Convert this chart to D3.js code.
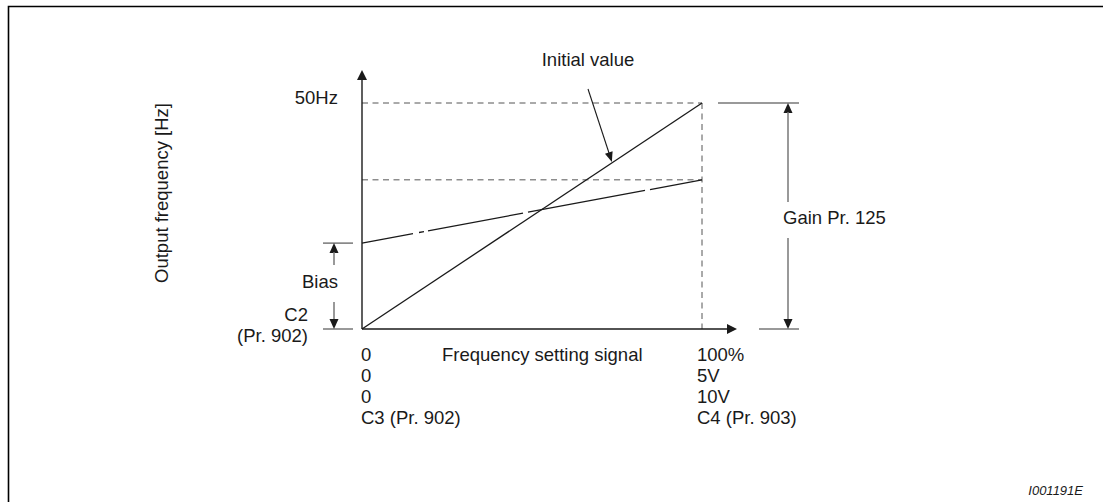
<!DOCTYPE html>
<html>
<head>
<meta charset="utf-8">
<script src="https://cdn.jsdelivr.net/npm/d3@7"></script>
<style>
  html, body { margin: 0; padding: 0; background: #fff; }
  svg { display: block; }
  text { font-family: "Liberation Sans", Arial, sans-serif; fill: #1a1a1a; }
</style>
</head>
<body>
<svg id="chart" width="1103" height="502"></svg>
<script>
// Frequency setting signal, in percent of full scale
const signalPct = [0, 100];
// Output frequency along the initial (factory) characteristic, Hz
const initialHz = [0, 50];
// Output frequency along the adjusted characteristic (bias -> gain), Hz
const adjustedHz = [19, 33];
// Axis tick labels stacked under each end of the signal axis
const startLabels = ["0", "0", "0", "C3 (Pr. 902)"];
const endLabels = ["100%", "5V", "10V", "C4 (Pr. 903)"];
const biasLabels = ["C2", "(Pr. 902)"];
const maxHzLabel = "50Hz";

const svg = d3.select("#chart");
const FS = 18.5;
const LINE_GAP = 21;

// Frame around the figure
svg.append("path")
  .attr("d", "M8.5,502 V6.5 H1103")
  .attr("fill", "none").attr("stroke", "#000").attr("stroke-width", 1.6);

const x = d3.scaleLinear().domain([0, 100]).range([362, 702]);
const y = d3.scaleLinear().domain([0, 50]).range([329, 103]);

const xTip = x(110.3), yTip = y(57.3);

function arrowHead(tx, ty, angle, len, half, fill) {
  // angle: direction the arrow points, radians
  const bx = tx - len * Math.cos(angle), by = ty - len * Math.sin(angle);
  const px = -Math.sin(angle) * half, py = Math.cos(angle) * half;
  svg.append("path")
    .attr("d", `M${tx},${ty} L${bx + px},${by + py} L${bx - px},${by - py} Z`)
    .attr("fill", fill);
}

// Multi-line label: one text element, one tspan per line
function stacked(lines, px, py, anchor) {
  const t = svg.append("text").attr("x", px).attr("y", py)
    .attr("text-anchor", anchor).attr("font-size", FS);
  lines.forEach((s, i) => {
    t.append("tspan").attr("x", px).attr("dy", i === 0 ? 0 : LINE_GAP).text(s);
  });
}

// Guide lines (dashed)
const dash = { stroke: "#555", "stroke-width": 1, "stroke-dasharray": "6,4.5" };
function dashed(x1, y1, x2, y2) {
  const l = svg.append("line").attr("x1", x1).attr("y1", y1).attr("x2", x2).attr("y2", y2);
  Object.entries(dash).forEach(([k, v]) => l.attr(k, v));
}
dashed(x(0), y(initialHz[1]), x(100), y(initialHz[1]));
dashed(x(0), y(adjustedHz[1]), x(100), y(adjustedHz[1]));
dashed(x(100), y(initialHz[1]), x(100), y(0));

// Axes
const axisColor = "#1a1a1a";
svg.append("line").attr("x1", x(0)).attr("y1", y(0)).attr("x2", x(0)).attr("y2", yTip + 8)
  .attr("stroke", axisColor).attr("stroke-width", 1.4);
arrowHead(x(0), yTip, -Math.PI / 2, 10, 5, axisColor);
svg.append("line").attr("x1", x(0)).attr("y1", y(0)).attr("x2", xTip - 8).attr("y2", y(0))
  .attr("stroke", axisColor).attr("stroke-width", 1.4);
arrowHead(xTip, y(0), 0, 10, 5, axisColor);

// Characteristic lines
const line = d3.line().x(d => x(d[0])).y(d => y(d[1]));
svg.append("path")
  .attr("d", line(d3.zip(signalPct, initialHz)))
  .attr("fill", "none").attr("stroke", "#1a1a1a").attr("stroke-width", 1.3);

const adj = svg.append("path")
  .attr("d", line(d3.zip(signalPct, adjustedHz)))
  .attr("fill", "none").attr("stroke", "#1a1a1a").attr("stroke-width", 1.3);
{
  const k = Math.hypot(x(100) - x(0), y(adjustedHz[1]) - y(adjustedHz[0])) / (x(100) - x(0));
  const segs = [51, 6, 5, 4, 95, 5, 117, 5, 60].map(v => v * k);
  adj.attr("stroke-dasharray", segs.join(","));
}

// "Initial value" callout
svg.append("text").attr("x", 588).attr("y", 65.5).attr("text-anchor", "middle")
  .attr("font-size", FS).text("Initial value");
{
  const tipX = x(73.5);
  const tipY = y(d3.interpolateNumber(initialHz[0], initialHz[1])(0.735)) - 1;
  const sx = 588, sy = 89;
  const ang = Math.atan2(tipY - sy, tipX - sx);
  svg.append("line").attr("x1", sx).attr("y1", sy)
    .attr("x2", tipX - 8 * Math.cos(ang)).attr("y2", tipY - 8 * Math.sin(ang))
    .attr("stroke", "#1a1a1a").attr("stroke-width", 1.1);
  arrowHead(tipX, tipY, ang, 10, 4, "#1a1a1a");
}

// 50Hz label
svg.append("text").attr("x", 338).attr("y", 103.5).attr("text-anchor", "end")
  .attr("font-size", FS).text(maxHzLabel);

// Y axis title
svg.append("text")
  .attr("transform", "translate(161,193) rotate(-90)")
  .attr("text-anchor", "middle").attr("dominant-baseline", "central")
  .attr("font-size", FS).text("Output frequency [Hz]");

// X axis title
svg.append("text").attr("x", 442).attr("y", 360.5).attr("font-size", FS)
  .text("Frequency setting signal");

// Stacked tick labels at both ends of the signal axis
stacked(startLabels, x(0) - 1, 360.5, "start");
stacked(endLabels, x(100) - 5, 360.5, "start");

// Bias dimension
const grey = "#777";
[adjustedHz[0], 0].forEach(v => {
  svg.append("line").attr("x1", 323).attr("x2", 353).attr("y1", y(v)).attr("y2", y(v))
    .attr("stroke", grey).attr("stroke-width", 1.5);
});
arrowHead(334, y(adjustedHz[0]), -Math.PI / 2, 10, 4.5, "#1a1a1a");
svg.append("line").attr("x1", 334).attr("x2", 334).attr("y1", y(adjustedHz[0]) + 9).attr("y2", 265)
  .attr("stroke", grey).attr("stroke-width", 1.5);
svg.append("line").attr("x1", 334).attr("x2", 334).attr("y1", 302).attr("y2", y(0) - 9)
  .attr("stroke", grey).attr("stroke-width", 1.5);
arrowHead(334, y(0), Math.PI / 2, 10, 4.5, "#1a1a1a");
svg.append("text").attr("x", 338).attr("y", 287.5).attr("text-anchor", "end")
  .attr("font-size", FS).text("Bias");
stacked(biasLabels, 308, 320.5, "end");

// Gain dimension
svg.append("line").attr("x1", 718).attr("x2", 799).attr("y1", y(initialHz[1])).attr("y2", y(initialHz[1]))
  .attr("stroke", grey).attr("stroke-width", 1.5);
svg.append("line").attr("x1", 759).attr("x2", 799).attr("y1", y(0)).attr("y2", y(0))
  .attr("stroke", grey).attr("stroke-width", 1.5);
arrowHead(788, y(initialHz[1]), -Math.PI / 2, 10, 4.5, "#1a1a1a");
svg.append("line").attr("x1", 788).attr("x2", 788).attr("y1", y(initialHz[1]) + 9).attr("y2", 202)
  .attr("stroke", grey).attr("stroke-width", 1.5);
svg.append("line").attr("x1", 788).attr("x2", 788).attr("y1", 238).attr("y2", y(0) - 9)
  .attr("stroke", grey).attr("stroke-width", 1.5);
arrowHead(788, y(0), Math.PI / 2, 10, 4.5, "#1a1a1a");
svg.append("text").attr("x", 783).attr("y", 223.5).attr("font-size", FS).text("Gain Pr. 125");

// Figure id
svg.append("text").attr("x", 1083).attr("y", 495).attr("text-anchor", "end")
  .attr("font-size", 13).attr("font-style", "italic").text("I001191E");
</script>
</body>
</html>
